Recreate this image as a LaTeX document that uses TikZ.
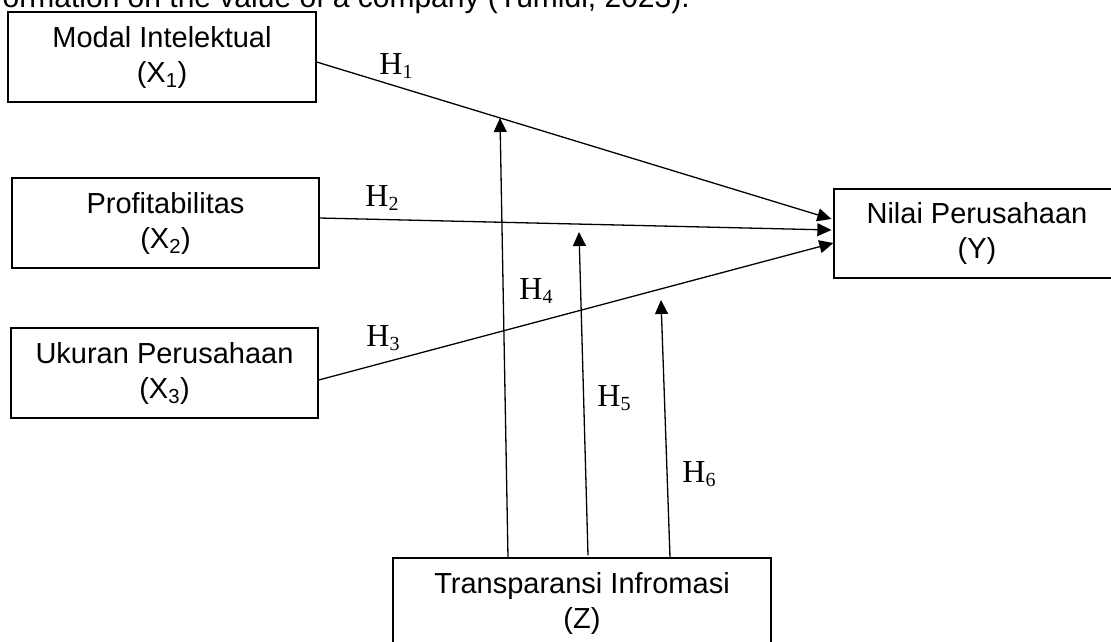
\documentclass[tikz,border=0pt]{standalone}
\usepackage{fontspec}
\setmainfont{Liberation Sans}
\newfontfamily\serifH{Liberation Serif}
\usetikzlibrary{arrows.meta,calc}
\newcommand{\hsub}[1]{\raisebox{-0.12em}{\fontsize{20}{20}\selectfont #1}}
\begin{document}
\begin{tikzpicture}[x=1pt,y=-1pt,
  varbox/.style={draw,line width=1.3pt,inner sep=0pt,align=center,
    font=\fontsize{29}{35}\selectfont},
  link/.style={line width=1.3pt,-{Triangle[length=14pt,width=13pt]}},
  hlab/.style={font=\serifH\fontsize{32}{34}\selectfont,inner sep=0pt}]
\useasboundingbox (0,0) rectangle (1111,641);
\clip (0,0) rectangle (1111,641);
\node[anchor=base east,inner sep=0pt,font=\fontsize{30}{34}\selectfont] (top) at (690,7) {information on the value of a company (Yumidi, 2023).};
\node[varbox,minimum width=308pt,minimum height=90pt] (x1) at (162,57) {Modal Intelektual\\(X\textsubscript{1})};
\node[varbox,minimum width=307pt,minimum height=90pt] (x2) at (165.5,223) {Profitabilitas\\(X\textsubscript{2})};
\node[varbox,minimum width=307pt,minimum height=90pt] (x3) at (164.5,373) {Ukuran Perusahaan\\(X\textsubscript{3})};
\node[varbox,minimum width=286pt,minimum height=89pt] (y) at (977,233.5) {Nilai Perusahaan\\(Y)};
\node[varbox,minimum width=378pt,minimum height=90pt] (z) at (582,603) {Transparansi Infromasi\\(Z)};
\coordinate (t4) at (500,118);
\coordinate (t5) at (579,232);
\coordinate (t6) at (661,300);
\draw[link] ($(x1.east)+(0,5)$) -- ($(y.west)+(-2,-14.5)$);
\draw[link] ($(x2.east)+(0,-5)$) -- ($(y.west)+(-2,-3.5)$);
\draw[link] ($(x3.east)+(0,7)$) -- ($(y.west)+(0,9.5)$);
\draw[link] ($(z.north)+(-74,0)$) -- (t4);
\draw[link] ($(z.north)+(6,-2)$) -- (t5);
\draw[link] ($(z.north)+(88,0)$) -- (t6);
\node[hlab] (h1) at (396,66) {H\hsub{1}};
\node[hlab] (h2) at (382,198) {H\hsub{2}};
\node[hlab] (h3) at (383,338) {H\hsub{3}};
\node[hlab] (h4) at (536,291) {H\hsub{4}};
\node[hlab] (h5) at (614,398) {H\hsub{5}};
\node[hlab] (h6) at (699,474) {H\hsub{6}};
\end{tikzpicture}
\end{document}
